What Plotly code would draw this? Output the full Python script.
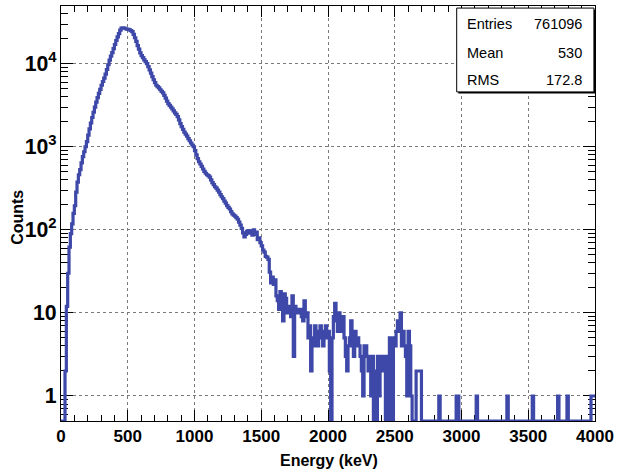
import numpy as np
import plotly.graph_objects as go

# ---------------- data (10 keV bins, 0-4000 keV) ----------------
bin_width = 10
energy_min = 0
energy_max = 4000

counts_0_490 = [
    0, 0, 0, 2, 12, 30, 62, 90, 118, 158,
    195, 285, 375, 460, 530, 640, 760, 870, 1000, 1150,
    1380, 1640, 1930, 2250, 2600, 3000, 3450, 3900, 4400, 4900,
    5500, 6100, 6700, 7500, 8500, 9700, 11000, 12300, 13600, 15200,
    17000, 19000, 21000, 23000, 25300, 26800, 27000, 26800, 26300, 26000,
]
counts_500_990 = [
    25800, 25500, 25000, 24300, 22500, 20500, 18500, 16500, 15000, 13500,
    12500, 11800, 11100, 10600, 10000, 9200, 8400, 7700, 7000, 6400,
    5900, 5500, 5300, 5100, 4850, 4650, 4450, 4150, 3850, 3550,
    3300, 3150, 3000, 2850, 2700, 2550, 2450, 2300, 2100, 1900,
    1750, 1620, 1500, 1420, 1340, 1250, 1180, 1110, 1050, 1000,
]
counts_1000_1490 = [
    900, 800, 720, 660, 620, 580, 540, 505, 480, 460,
    450, 430, 400, 370, 350, 330, 318, 300, 285, 265,
    250, 238, 222, 210, 196, 186, 178, 166, 156, 150,
    146, 140, 134, 124, 114, 104, 92, 82, 88, 96,
    98, 91, 97, 86, 100, 88, 94, 76, 80, 70,
]
counts_1500_1990 = [
    64, 57, 54, 48, 47, 44, 31, 23, 27, 22,
    25, 16, 14, 11, 18, 13, 8, 17, 15, 10,
    11, 12, 9, 16, 3, 12, 10, 11, 10, 11,
    9, 8, 14, 9, 10, 5, 7, 2, 5, 4,
    7, 6, 4, 6, 7, 5, 4, 6, 7, 5,
]
counts_2000_2490 = [
    6, 2, 0, 5, 9, 13, 8, 6, 10, 9,
    6, 9, 5, 3, 2, 4, 5, 8, 4, 3,
    6, 4, 5, 4, 3, 2, 1, 4, 4, 3,
    2, 3, 1, 3, 0, 2, 0, 3, 1, 3,
    2, 3, 2, 0, 3, 0, 5, 4, 0, 5,
]
counts_2500_2990 = [
    4, 6, 8, 6, 10, 4, 6, 4, 3, 1,
    6, 4, 1, 0, 0, 0, 2, 2, 2, 2,
    0, 0, 0, 0, 0, 0, 0, 0, 0, 0,
    0, 0, 0, 1, 0, 0, 0, 0, 0, 0,
    0, 0, 0, 0, 0, 0, 1, 1, 0, 0,
]
counts_3000_3490 = [
    0, 0, 0, 0, 0, 0, 0, 0, 0, 0,
    0, 1, 0, 0, 0, 0, 0, 0, 0, 0,
    0, 0, 0, 0, 0, 0, 0, 0, 0, 0,
    0, 0, 0, 0, 1, 0, 0, 0, 0, 0,
    0, 0, 0, 0, 0, 0, 0, 0, 0, 0,
]
counts_3500_3990 = [
    0, 0, 0, 1, 0, 0, 0, 0, 0, 0,
    0, 0, 0, 0, 0, 0, 0, 0, 0, 0,
    0, 0, 1, 0, 0, 0, 0, 0, 0, 1,
    0, 0, 0, 0, 0, 0, 0, 0, 0, 0,
    0, 0, 0, 0, 0, 0, 0, 1, 1, 1,
]

stats_labels = ["Entries", "Mean", "RMS"]
stats_values = ["761096", "530", "172.8"]

x_title = "Energy (keV)"
y_title = "Counts"

# ---------------- build histogram outline ----------------
counts = np.array(counts_0_490 + counts_500_990 + counts_1000_1490 + counts_1500_1990
                  + counts_2000_2490 + counts_2500_2990 + counts_3000_3490 + counts_3500_3990,
                  dtype=float)
edges = np.arange(energy_min, energy_max + bin_width, bin_width)

y_log_min, y_log_max = -0.301, 4.694
floor_val = 10 ** y_log_min  # empty bins drawn along the frame bottom (ROOT style)
disp = np.where(counts > 0, counts, floor_val)
xs = np.concatenate([edges[:-1], [edges[-1]]])
ys = np.concatenate([disp, [disp[-1]]])

LINE = "#3d48a8"
FONT = "Liberation Sans"

fig = go.Figure()
fig.add_trace(go.Scatter(
    x=xs, y=ys, mode="lines", line=dict(color=LINE, width=3.2, shape="hv"),
    hoverinfo="skip", showlegend=False,
))

fig.update_layout(
    width=619, height=471,
    margin=dict(l=61, r=21, t=5, b=50),
    paper_bgcolor="white", plot_bgcolor="white",
    showlegend=False,
)

fig.update_xaxes(
    range=[energy_min, energy_max], dtick=500, tick0=0,
    showline=True, linecolor="black", linewidth=1, mirror="allticks",
    ticks="inside", ticklen=11, tickcolor="black", tickwidth=1,
    minor=dict(dtick=100, ticks="inside", ticklen=6, tickcolor="black", showgrid=False),
    showgrid=True, gridcolor="#7a7a7a", griddash="dot", gridwidth=1,
    zeroline=False,
    tickfont=dict(family=FONT, size=17, color="black", weight="bold"),
    layer="below traces",
)
fig.update_yaxes(
    type="log", range=[y_log_min, y_log_max], dtick=1, exponentformat="power",
    showline=True, linecolor="black", linewidth=1, mirror="allticks",
    ticks="inside", ticklen=12, tickcolor="black", tickwidth=1,
    minor=dict(dtick="D1", ticks="inside", ticklen=7, tickcolor="black", showgrid=False),
    showgrid=True, gridcolor="#7a7a7a", griddash="dot", gridwidth=1,
    zeroline=False,
    tickfont=dict(family=FONT, size=17, color="black", weight="bold"),
    layer="below traces",
)

# axis titles
fig.add_annotation(text=x_title, xref="paper", yref="paper", x=0.501, y=-0.096,
                   xanchor="center", yanchor="middle", showarrow=False,
                   font=dict(family=FONT, size=16, color="black", weight="bold"))
fig.add_annotation(text=y_title, xref="paper", yref="paper", x=-0.082, y=0.49,
                   xanchor="center", yanchor="middle", showarrow=False, textangle=-90,
                   font=dict(family=FONT, size=16, color="black", weight="bold"))

# stats box
bx0, bx1, by0, by1 = 0.741, 0.998, 0.793, 0.995
fig.add_shape(type="rect", xref="paper", yref="paper", x0=bx0 + 0.003, x1=bx1 + 0.003,
              y0=by0 - 0.004, y1=by1 - 0.004, fillcolor="black", line=dict(width=0), layer="above")
fig.add_shape(type="rect", xref="paper", yref="paper", x0=bx0, x1=bx1, y0=by0, y1=by1,
              fillcolor="white", line=dict(color="black", width=1), layer="above")
row_y = [0.9575, 0.8877, 0.8214]
for lab, val, yy in zip(stats_labels, stats_values, row_y):
    fig.add_annotation(text=lab, xref="paper", yref="paper", x=0.756, y=yy,
                       xanchor="left", yanchor="middle", showarrow=False,
                       font=dict(family=FONT, size=14.5, color="black"))
    fig.add_annotation(text=val, xref="paper", yref="paper", x=0.9795, y=yy,
                       xanchor="right", yanchor="middle", showarrow=False,
                       font=dict(family=FONT, size=14.5, color="black"))

fig.write_html("out.html")
